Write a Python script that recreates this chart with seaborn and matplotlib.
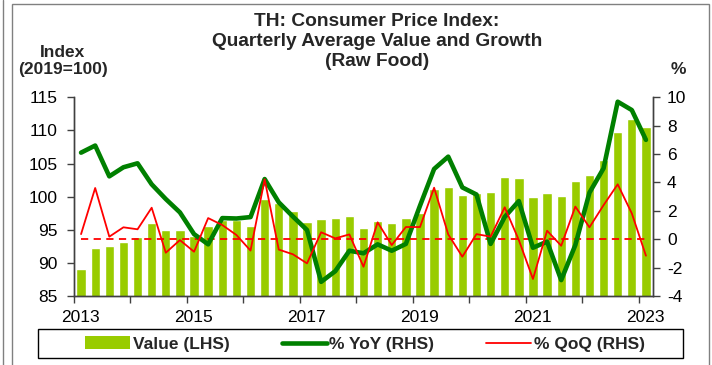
import numpy as np
import pandas as pd
import seaborn as sns
import matplotlib.pyplot as plt
from matplotlib.patches import Rectangle, Patch
from matplotlib.lines import Line2D

# Quarterly data, 2013Q1 - 2023Q1
quarters = pd.period_range("2013Q1", "2023Q1", freq="Q").astype(str)

index_value = [89.1, 92.3, 92.5, 93.2, 93.9, 96.0, 95.0, 95.0, 94.1, 95.6,
               96.4, 96.4, 95.6, 99.6, 99.0, 97.8, 96.2, 96.6, 96.75, 97.05,
               95.2, 96.35, 95.95, 96.75, 97.55, 101.1, 101.4, 100.2, 100.6, 100.7,
               103.0, 102.8, 100.0, 100.6, 100.1, 102.4, 103.2, 105.6, 109.8, 111.7,
               110.5]

yoy = [6.1, 6.6, 4.43, 5.07, 5.35, 3.87, 2.83, 1.89, 0.36, -0.36,
       1.49, 1.46, 1.56, 4.24, 2.6, 1.6, 0.65, -3.0, -2.25, -0.81,
       -0.99, -0.36, -0.81, -0.33, 2.36, 4.95, 5.82, 3.65, 3.15, -0.33,
       1.57, 2.69, -0.6, -0.17, -2.88, -0.41, 3.28, 5.0, 9.69, 9.1,
       7.0]

qoq = [0.36, 3.61, 0.18, 0.84, 0.7, 2.22, -0.95, -0.06, -0.88, 1.49,
       1.0, 0.3, -0.8, 4.22, -0.73, -1.06, -1.7, 0.49, 0.06, 0.34,
       -1.94, 1.19, -0.41, 0.86, 0.86, 3.63, 0.34, -1.23, 0.36, 0.18,
       2.25, -0.06, -2.8, 0.6, -0.46, 2.3, 0.84, 2.4, 3.87, 1.82,
       -1.16]

year_labels = ["2013", "2015", "2017", "2019", "2021", "2023"]

BAR_C = "#99CC00"
YOY_C = "#008000"
QOQ_C = "#FF0000"
FS = 12.5

sns.set_theme(style="white")
plt.rcParams["font.family"] = ["Liberation Sans", "DejaVu Sans"]
plt.rcParams["axes.unicode_minus"] = False

n = len(quarters)
pos = np.arange(n) + 0.5

fig = plt.figure(figsize=(7.12, 3.65), dpi=100)
ax = fig.add_axes([74 / 712, 1 - 296 / 365, (653 - 74) / 712, (296 - 97.3) / 365])

# Index level as bars on the left axis
sns.barplot(x=pos, y=index_value, native_scale=True, width=0.66, color=BAR_C,
            saturation=1, errorbar=None, ax=ax, zorder=1)
ax.set_ylim(85, 115)
ax.set_yticks(np.arange(85, 116, 5))

# Growth rates on the right axis
ax2 = ax.twinx()
sns.lineplot(x=pos, y=np.zeros(n), ax=ax2, color=QOQ_C, lw=1.3,
             sort=False, estimator=None, zorder=2).lines[-1].set_dashes((4, 3))
sns.lineplot(x=pos, y=yoy, ax=ax2, color=YOY_C, lw=3.3, sort=False,
             estimator=None, zorder=3)
sns.lineplot(x=pos, y=qoq, ax=ax2, color=QOQ_C, lw=1.3, sort=False,
             estimator=None, zorder=4)
ax2.set_ylim(-4, 10)
ax2.set_yticks(np.arange(-4, 11, 2))

for a in (ax, ax2):
    a.set_xlim(0, n)
    a.set_xlabel("")
    a.set_ylabel("")
    a.grid(False)
    a.spines["top"].set_visible(False)
    for s in ("left", "right", "bottom"):
        a.spines[s].set_color("#404040")
        a.spines[s].set_linewidth(1.0)

# Year ticks at year boundaries, labels every two years
ax.set_xticks(np.arange(0, n + 1, 8) + 0.45)
ax.set_xticklabels(year_labels)
ax.set_xticks(np.arange(0, n + 1, 4), minor=True)
ax.tick_params(axis="x", which="major", length=0, pad=10, labelsize=FS, colors="black")
ax.tick_params(axis="x", which="minor", length=5, width=1, color="#404040",
               direction="out", bottom=True)
ax.tick_params(axis="y", length=5, width=1, color="#404040", direction="out",
               left=True, labelsize=FS, labelcolor="black", pad=7)
ax2.tick_params(axis="y", length=5, width=1, color="#404040", direction="out",
                right=True, labelsize=FS, labelcolor="black", pad=5)

# Titles and axis captions
fig.text(377 / 712, 1 - 41.5 / 365,
         "TH: Consumer Price Index:\nQuarterly Average Value and Growth\n(Raw Food)",
         ha="center", va="center", fontsize=13.8, fontweight="bold", linespacing=1.2)
fig.text(63 / 712, 1 - 61 / 365, "Index\n(2019=100)", ha="center", va="center",
         fontsize=FS, fontweight="bold", linespacing=1.2)
fig.text(678 / 712, 1 - 70 / 365, "%", ha="center", va="center",
         fontsize=FS, fontweight="bold")

# Legend with its own box
handles = [Patch(facecolor=BAR_C, edgecolor="none"),
           Line2D([], [], color=YOY_C, lw=3.3),
           Line2D([], [], color=QOQ_C, lw=1.3)]
labels = ["Value (LHS)", "% YoY (RHS)", "% QoQ (RHS)"]
fig.legend(handles, labels, loc="center", bbox_to_anchor=(365 / 712, 1 - 344 / 365),
           ncol=3, frameon=False, handlelength=2.6, handletextpad=0.15,
           columnspacing=3.0, prop=dict(weight="bold", size=FS))
fig.add_artist(Rectangle((37.7 / 712, 1 - 358.3 / 365), (682.7 - 37.7) / 712, 29 / 365,
                         transform=fig.transFigure, fill=False, ec="black", lw=1.0))

# Outer chart frame
fig.add_artist(Rectangle((12 / 712, -0.1), (709 - 12) / 712, 1.1 - 4.5 / 365,
                         transform=fig.transFigure, fill=False, ec="#808080", lw=1.0))
fig.add_artist(Line2D([3 / 712, 3 / 712], [0, 1], transform=fig.transFigure,
                      color="#808080", lw=1.0))

fig.savefig("out.png", dpi=100)
